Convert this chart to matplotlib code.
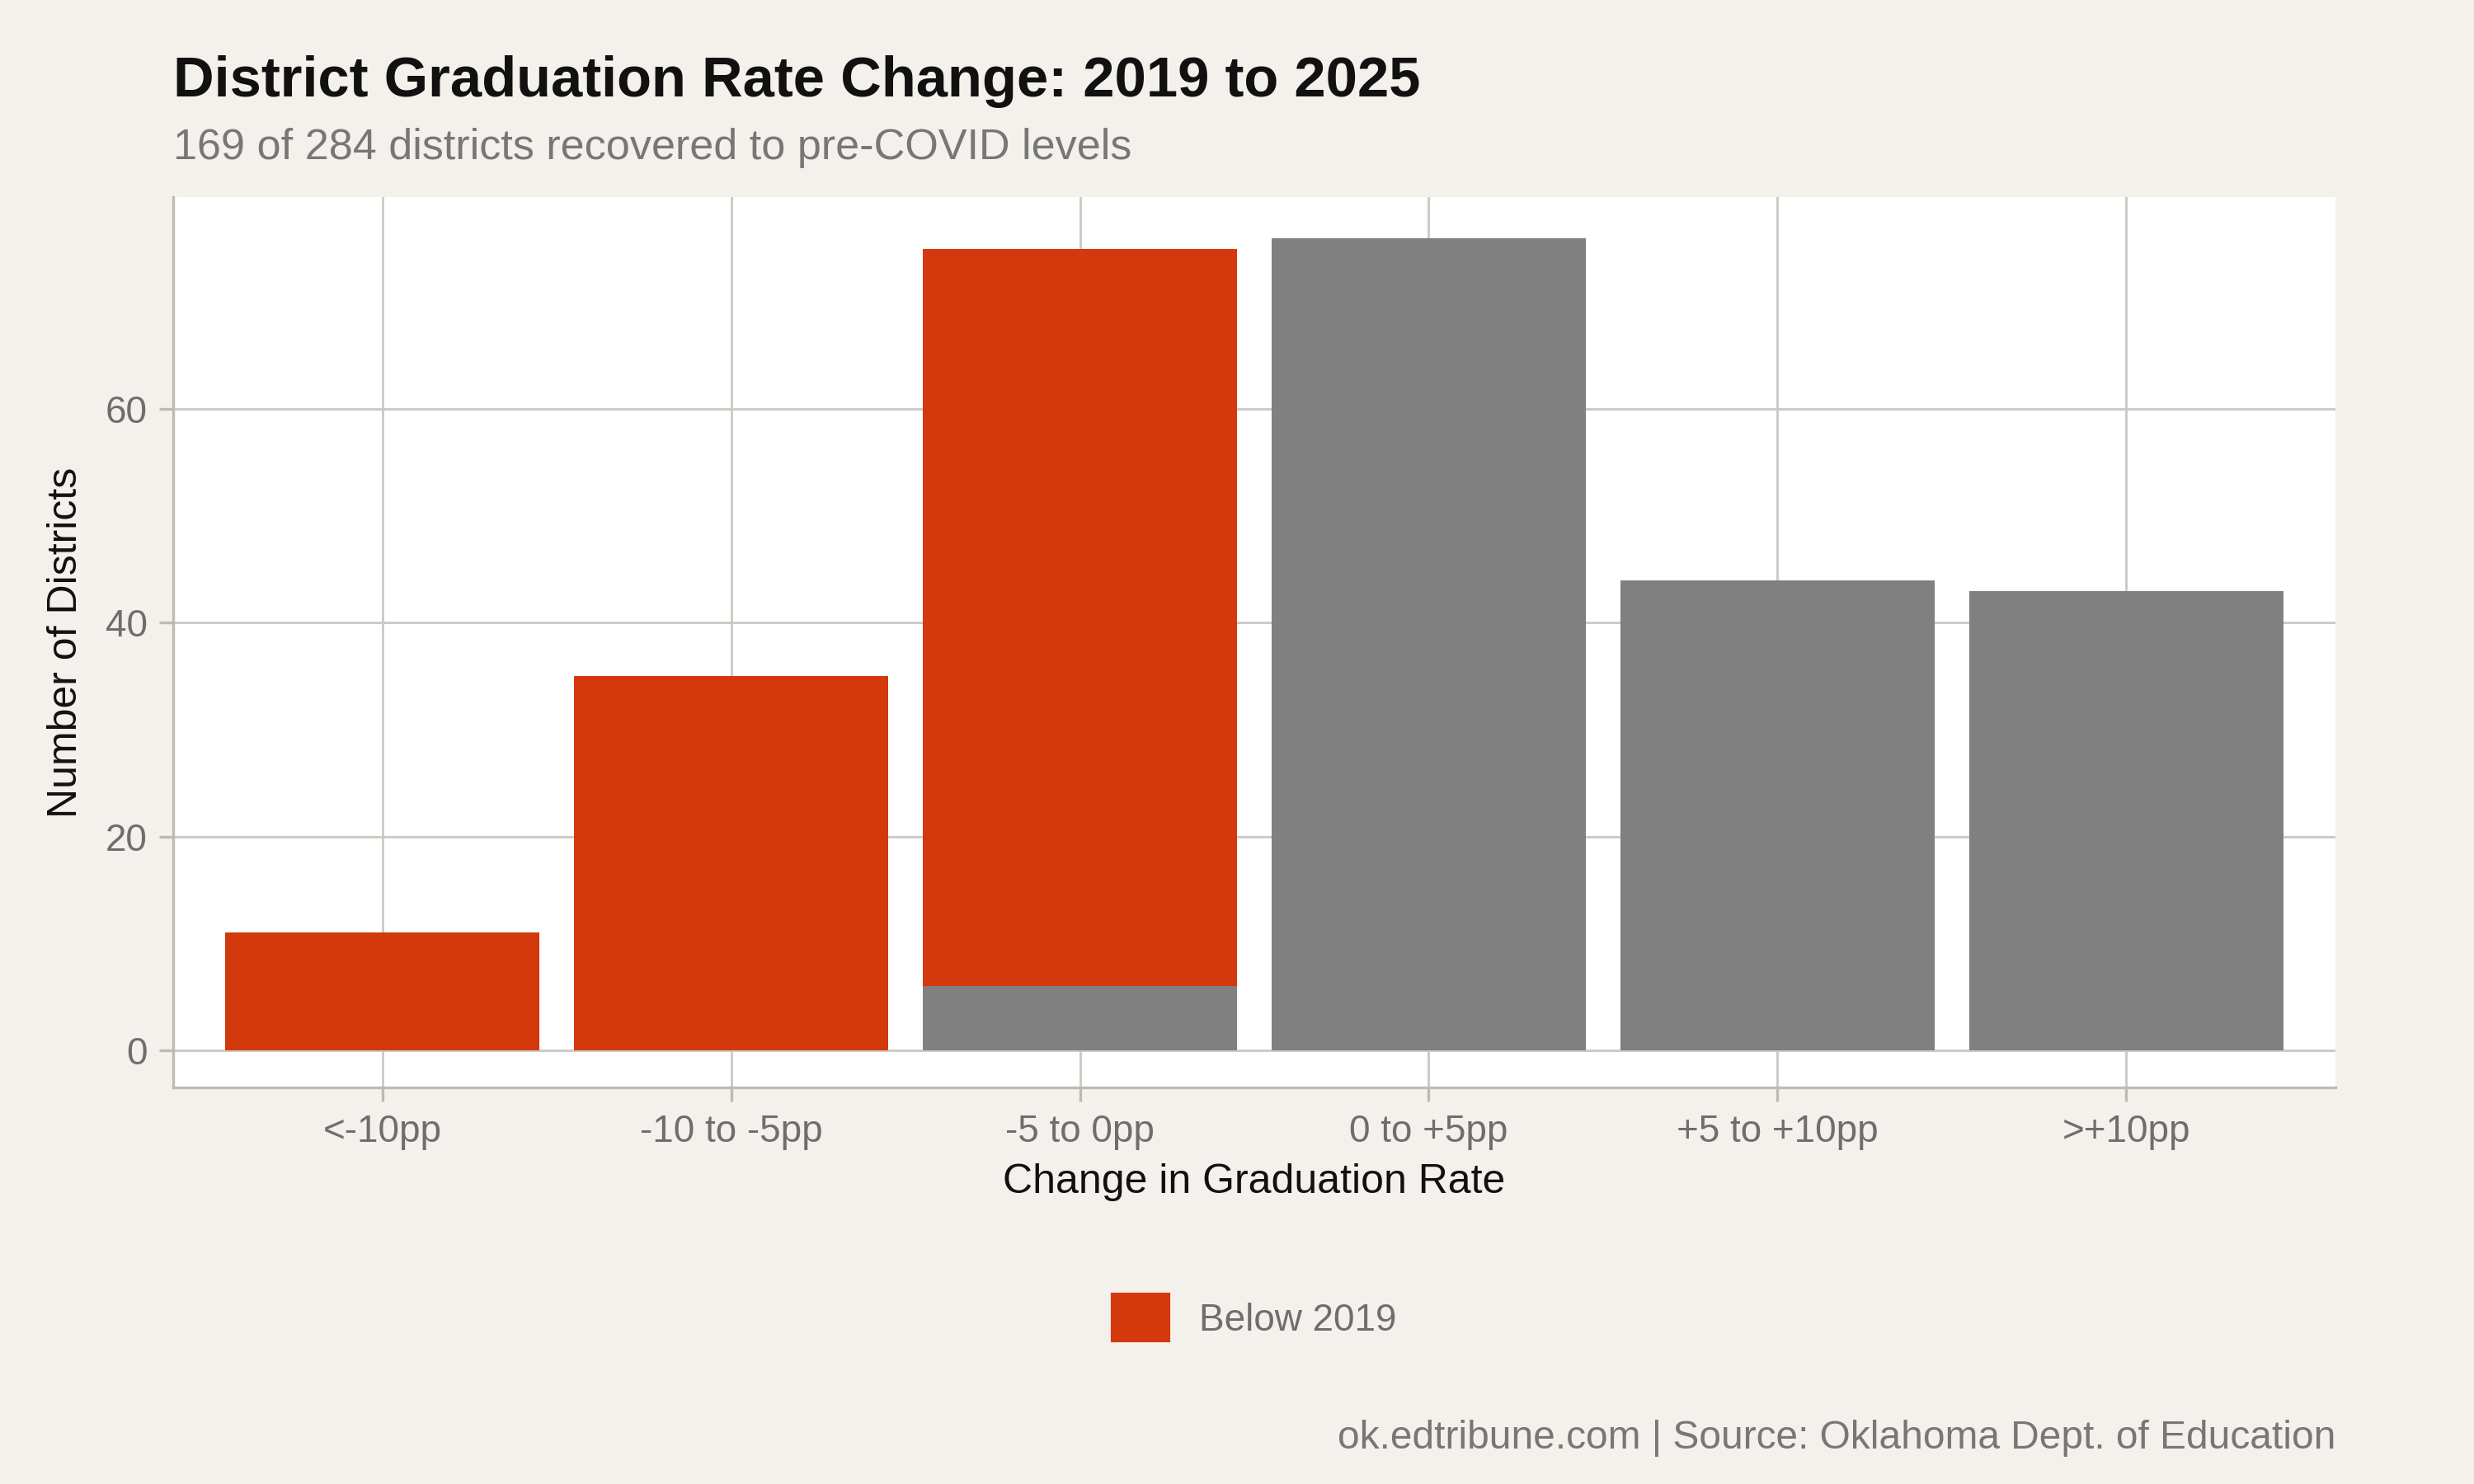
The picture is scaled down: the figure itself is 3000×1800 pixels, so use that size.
import matplotlib
matplotlib.use("Agg")
import matplotlib.pyplot as plt
from matplotlib.patches import Patch

categories = ["<-10pp", "-10 to -5pp", "-5 to 0pp", "0 to +5pp", "+5 to +10pp", ">+10pp"]
below_2019 = [11, 35, 69, 0, 0, 0]
recovered = [0, 0, 6, 76, 44, 43]

plt.rcParams['font.family'] = ['Liberation Sans', 'DejaVu Sans']
BG = "#F4F1EC"
RED = "#D4380D"
GREY = "#808080"

fig = plt.figure(figsize=(10, 6), dpi=300, facecolor=BG)
ax = fig.add_axes([0.070, 0.267, 0.874, 0.600])
ax.set_facecolor("white")
x = list(range(len(categories)))
ax.bar(x, recovered, width=0.9, color=GREY, zorder=3)
ax.bar(x, below_2019, width=0.9, bottom=recovered, color=RED, zorder=3)
ax.set_xlim(-0.6, 5.6)
ax.set_ylim(-3.5, 79.8)
ax.set_yticks([0, 20, 40, 60])
ax.set_xticks(x)
ax.set_xticklabels(categories)
ax.grid(True, color="#CCCAC4", linewidth=0.7, zorder=0)
for s in ["top", "right"]:
    ax.spines[s].set_visible(False)
for s in ["left", "bottom"]:
    ax.spines[s].set_color("#BDBAB3")
    ax.spines[s].set_linewidth(0.8)
ax.tick_params(colors="#BDBAB3", labelcolor="#6E6E6E", labelsize=11, length=4)
ax.set_xlabel("Change in Graduation Rate", fontsize=12, color="#111111", labelpad=4)
ax.set_ylabel("Number of Districts", fontsize=12, color="#111111", labelpad=6)

fig.text(0.070, 0.935, "District Graduation Rate Change: 2019 to 2025", fontsize=16.5,
         fontweight="bold", color="#111111", va="baseline")
fig.text(0.070, 0.893, "169 of 284 districts recovered to pre-COVID levels", fontsize=12.5,
         color="#777777", va="baseline")
fig.legend(handles=[Patch(color=RED, label="Below 2019")], loc="center",
           bbox_to_anchor=(0.507, 0.112), frameon=False, fontsize=11,
           labelcolor="#6E6E6E", handlelength=1.5, handleheight=1.5)
fig.text(0.944, 0.024, "ok.edtribune.com | Source: Oklahoma Dept. of Education",
         fontsize=11.5, color="#777777", ha="right", va="baseline")
fig.savefig("out.png", dpi=300, facecolor=BG)
